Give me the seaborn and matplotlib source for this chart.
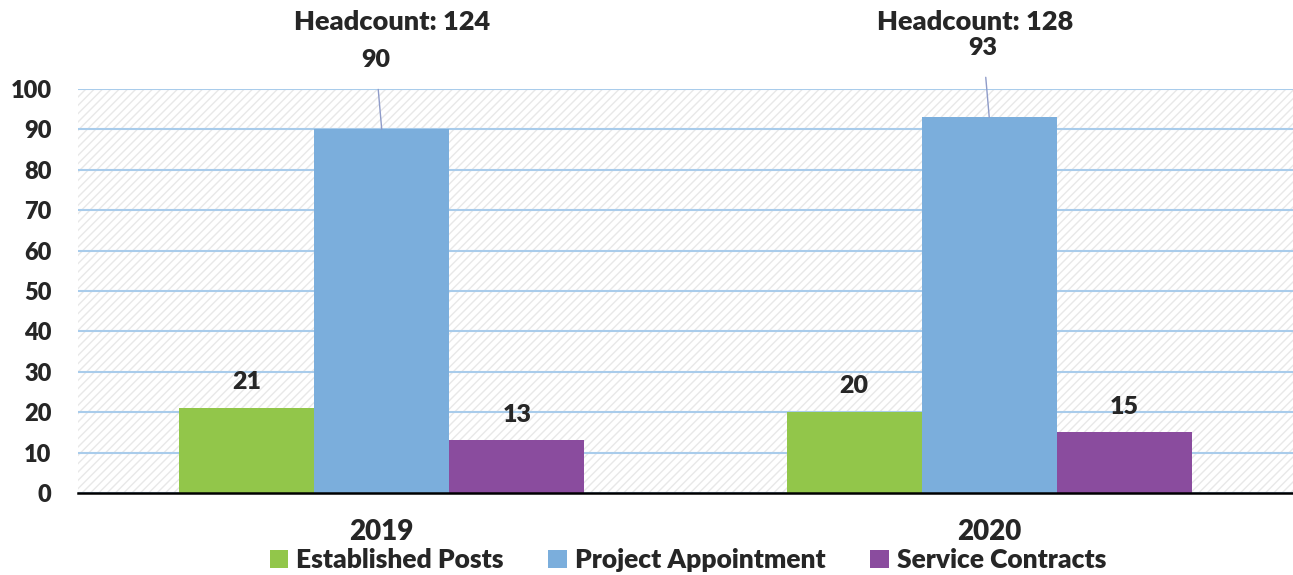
import pandas as pd
import numpy as np
import matplotlib.pyplot as plt
import seaborn as sns
from matplotlib.patches import Rectangle

# data
years = ['2019', '2020']
series = ['Established Posts', 'Project Appointment', 'Service Contracts']
established = [21, 20]
project = [90, 93]
service = [13, 15]
headcount = [124, 128]
colors = ['#92C64A', '#7BAEDC', '#8A4C9E']

df = pd.DataFrame({
    'Year': years * 3,
    'Type': [s for s in series for _ in years],
    'Value': established + project + service,
})

sns.set_theme(style='white')
plt.rcParams['font.family'] = ['Lato', 'DejaVu Sans']
W = 'heavy'

fig = plt.figure(figsize=(12.93, 5.75), dpi=100)
ax = fig.add_axes([0.0603, 0.1426, 0.9397, 0.7026])

# hatched background
bg = Rectangle((0, 0), 1, 1, transform=ax.transAxes, facecolor='white',
               edgecolor='#E8E8E8', hatch='////', linewidth=0, zorder=0)
ax.add_patch(bg)

sns.barplot(data=df, x='Year', y='Value', hue='Type', hue_order=series,
            palette=colors, width=0.667, gap=0, saturation=1, ax=ax,
            edgecolor='none', zorder=3)

ax.set_xlim(-0.5, 1.5)
ax.set_ylim(0, 100)
ax.set_yticks(range(0, 101, 10))
ax.yaxis.grid(True, color='#A9CCEB', linewidth=1.5, zorder=1)
ax.set_axisbelow(True)
for s in ['top', 'right', 'left']:
    ax.spines[s].set_visible(False)
ax.spines['bottom'].set_color('black')
ax.spines['bottom'].set_linewidth(1.8)
ax.spines['bottom'].set_zorder(5)
ax.tick_params(axis='y', labelsize=17, length=0, pad=19)
ax.tick_params(axis='x', labelsize=20, length=0, pad=19)
for t in ax.get_xticklabels() + ax.get_yticklabels():
    t.set_fontweight(W)
ax.set_xlabel('')
ax.set_ylabel('')

# data labels
for cont, vals in zip(ax.containers, [established, project, service]):
    for bar, v in zip(cont, vals):
        cx = bar.get_x() + bar.get_width() / 2
        if v > 50:
            ax.annotate(str(v), xy=(cx, v), xytext=(cx - 0.01, v + 17.2),
                        ha='center', va='center', fontsize=18, fontweight=W,
                        arrowprops=dict(arrowstyle='-', color='#8E9BC9', lw=1,
                                        shrinkA=11, shrinkB=0), zorder=6)
        else:
            ax.text(cx, v + 6.4, str(v), ha='center', va='center',
                    fontsize=18, fontweight=W, zorder=6)

# headcount labels
for i, h in enumerate(headcount):
    ax.text(i + 0.017 - 0.04 * i, 116.6, f'Headcount: {h}', ha='center', va='center',
            fontsize=19.5, fontweight=W, clip_on=False)

leg = ax.legend(loc='center', bbox_to_anchor=(0.532, 1 - 560 / 575),
                bbox_transform=fig.transFigure, ncol=3,
                frameon=False, fontsize=19, handlelength=0.7, handleheight=0.7,
                handletextpad=0.3, columnspacing=1.7, borderpad=0)
for t in leg.get_texts():
    t.set_fontweight(W)

fig.savefig('out.png', dpi=100)
